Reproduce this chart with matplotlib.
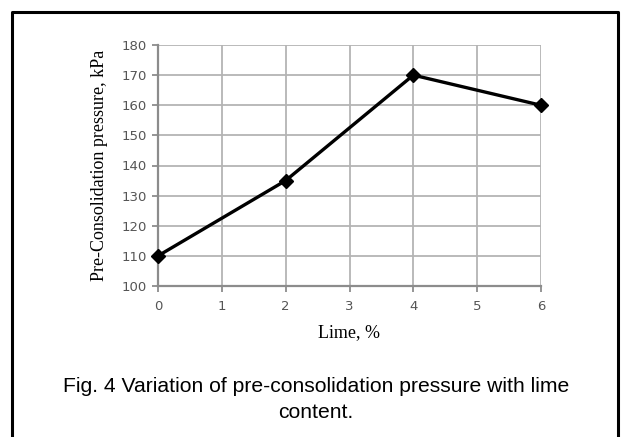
import matplotlib.pyplot as plt

# lime content (%) vs pre-consolidation pressure (kPa)
lime = [0, 2, 4, 6]
pressure = [110, 135, 170, 160]

x_ticks = [0, 1, 2, 3, 4, 5, 6]
y_ticks = [100, 110, 120, 130, 140, 150, 160, 170, 180]

fig = plt.figure(figsize=(6.23, 4.37), dpi=100)

# frame around the figure and its caption (open at the bottom)
fig.add_artist(plt.Line2D([12 / 623, 12 / 623, 618 / 623, 618 / 623],
                          [0, 1 - 12 / 437, 1 - 12 / 437, 0],
                          transform=fig.transFigure, color='black', lw=2.2))

ax = fig.add_axes([158 / 623, 1 - 286 / 437, 383 / 623, 241 / 437])
ax.plot(lime, pressure, color='black', lw=2.4, marker='D', markersize=7,
        clip_on=False, zorder=5)

ax.set_xlim(0, 6)
ax.set_ylim(100, 180)
ax.set_xticks(x_ticks)
ax.set_yticks(y_ticks)
ax.grid(True, color='#b4b4b4', lw=1.3)
ax.set_axisbelow(True)

for side in ['top', 'right']:
    ax.spines[side].set_visible(False)
for side in ['left', 'bottom']:
    ax.spines[side].set_color('#8c8c8c')
    ax.spines[side].set_linewidth(1.6)

ax.tick_params(axis='both', colors='#8c8c8c', labelcolor='#555555',
               labelsize=9.5, length=4, width=1.3)
ax.tick_params(axis='x', pad=6)
ax.tick_params(axis='y', pad=4)

ax.set_xlabel('Lime, %', family='Liberation Serif', fontsize=13, labelpad=8)
ax.set_ylabel('Pre-Consolidation pressure, kPa', family='Liberation Serif',
              fontsize=13, labelpad=10)

fig.text(316 / 623, 1 - 386 / 437,
         'Fig. 4 Variation of pre-consolidation pressure with lime',
         ha='center', va='center', family='Liberation Sans', fontsize=15.2)
fig.text(316 / 623, 1 - 412 / 437, 'content.',
         ha='center', va='center', family='Liberation Sans', fontsize=15.2)

fig.savefig('out.png', dpi=100)
